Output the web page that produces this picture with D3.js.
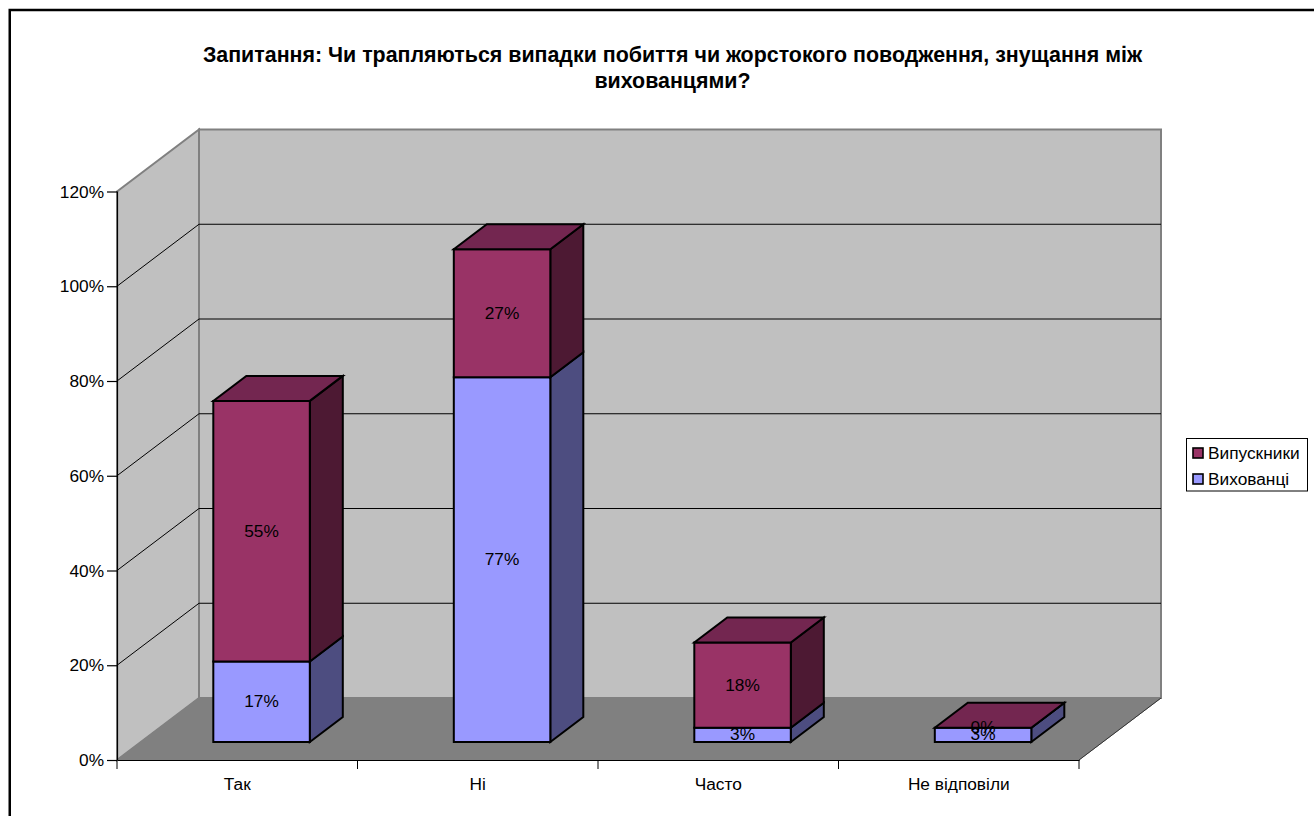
<!DOCTYPE html>
<html><head><meta charset="utf-8">
<script src="https://cdn.jsdelivr.net/npm/d3@7"></script>
<style>html,body{margin:0;padding:0;background:#fff;overflow:hidden}svg{display:block}text{font-family:"Liberation Sans",Arial,sans-serif;fill:#000}</style>
</head><body><svg id="c" width="1314" height="816"></svg>
<script>
const categories = ["Так","Ні","Часто","Не відповіли"];
const seriesNames = ["Вихованці","Випускники"];
const vykhovantsi = [0.17,0.77,0.03,0.03];
const vypusknyky = [0.55,0.27,0.18,0];
const yTicks = [0,0.2,0.4,0.6,0.8,1.0,1.2];
const titleLines = ["Запитання: Чи трапляються випадки побиття чи жорстокого поводження, знущання між","вихованцями?"];
const seriesColors = {"Вихованці":{front:"#9999FF",side:"#4D4D80",top:"#737399"},"Випускники":{front:"#993366",side:"#4D1933",top:"#732650"}};

const svg = d3.select("#c");
const X0=117,X1=1079,Y0=760,Y1=191.5,DX=82,DY=62;
const FS=17.3;
const x = d3.scaleBand().domain(categories).range([X0,X1]);
const y = d3.scaleLinear().domain([0,1.2]).range([Y0,Y1]);
const baseLift=18, liftX=baseLift*DX/DY, barW=96.5, bdx=33, bdy=25;
const poly=(pts,fill,stroke,sw)=>svg.append("polygon").attr("points",pts.map(p=>p.join(",")).join(" ")).attr("fill",fill).attr("stroke",stroke||"none").attr("stroke-width",sw||0).attr("stroke-linejoin","miter");
const line=(a,b,c,sw)=>svg.append("line").attr("x1",a[0]).attr("y1",a[1]).attr("x2",b[0]).attr("y2",b[1]).attr("stroke",c).attr("stroke-width",sw);

// frame: only the top and left edges fall inside the picture
svg.append("path").attr("d","M9.75,816V10H1314").attr("fill","none").attr("stroke","#000").attr("stroke-width",2.5);
// title
svg.append("g").selectAll("text").data(titleLines).join("text").attr("x",672.5).attr("y",(d,i)=>62+i*26).attr("text-anchor","middle").attr("font-weight","bold").attr("font-size",21.4).text(d=>d);

// walls and floor
poly([[X0+DX,Y1-DY],[X1+DX,Y1-DY],[X1+DX,Y0-DY],[X0+DX,Y0-DY]],"#C0C0C0","#808080",2);
poly([[X0,Y1],[X0+DX,Y1-DY],[X0+DX,Y0-DY],[X0,Y0]],"#C0C0C0","#808080",2);
poly([[X0,Y0],[X0+DX,Y0-DY],[X1+DX,Y0-DY],[X1,Y0]],"#808080","#808080",1);
// gridlines
yTicks.slice(1,-1).forEach(t=>{
  line([X0,y(t)],[X0+DX,y(t)-DY],"#000",1);
  line([X0+DX,y(t)-DY],[X1+DX,y(t)-DY],"#000",1);
});
line([X1,Y0],[X1+DX,Y0-DY],"#333",1);

// axes
const yAxis = d3.axisLeft(y).tickValues(yTicks).tickFormat(d3.format(".0%")).tickSize(10).tickPadding(3);
const gy = svg.append("g").attr("transform",`translate(${X0},0)`).call(yAxis);
const xAxis = d3.axisBottom(x).tickSize(0).tickPadding(18);
const gx = svg.append("g").attr("transform",`translate(0,${Y0})`).call(xAxis);
[gy,gx].forEach(g=>{g.selectAll("text").attr("font-size",FS).style("font-family",'"Liberation Sans",Arial,sans-serif');g.selectAll("line,path").attr("stroke","#000").attr("stroke-width",1.2);});
gy.select(".domain").attr("d",`M0.5,${Y1}V${Y0}`);
d3.range(categories.length+1).forEach(i=>{const px=X0+i*x.bandwidth();line([px,Y0],[px,Y0+9],"#000",1);});

// bars
const lbl=[];
categories.forEach((c,i)=>{
  const cx=x(c)+x.bandwidth()/2+liftX+0.5, l=cx-barW/2, r=cx+barW/2;
  const base=y(0)-baseLift, h=v=>y(0)-y(v);
  let acc=0;
  [[seriesNames[0],vykhovantsi[i]],[seriesNames[1],vypusknyky[i]]].forEach(([s,v],k)=>{
    const yb=base-h(acc), yt=base-h(acc+v), col=seriesColors[s];
    poly([[r,yb],[r+bdx,yb-bdy],[r+bdx,yt-bdy],[r,yt]],col.side,"#000",2);
    if(v>0) poly([[l,yb],[r,yb],[r,yt],[l,yt]],col.front,"#000",2);
    lbl.push({cx,yc:(yb+yt)/2,t:d3.format(".0%")(v)});
    acc+=v;
  });
  const yt=base-h(acc), col=seriesColors[seriesNames[1]];
  poly([[l,yt],[r,yt],[r+bdx,yt-bdy],[l+bdx,yt-bdy]],col.top,"#000",2);
});
svg.append("g").selectAll("text").data(lbl).join("text").attr("x",d=>d.cx).attr("y",d=>d.yc+5.5).attr("text-anchor","middle").attr("font-size",FS).text(d=>d.t);

// legend
svg.append("rect").attr("x",1186.5).attr("y",438.5).attr("width",121).attr("height",52.5).attr("fill","#fff").attr("stroke","#000").attr("stroke-width",1);
[seriesNames[1],seriesNames[0]].forEach((s,i)=>{
  const yy=453+i*26;
  svg.append("rect").attr("x",1193).attr("y",yy-5).attr("width",10).attr("height",10).attr("fill",seriesColors[s].front).attr("stroke","#000").attr("stroke-width",1.6);
  svg.append("text").attr("x",1208).attr("y",yy+6).attr("font-size",FS).text(s);
});
</script></body></html>
